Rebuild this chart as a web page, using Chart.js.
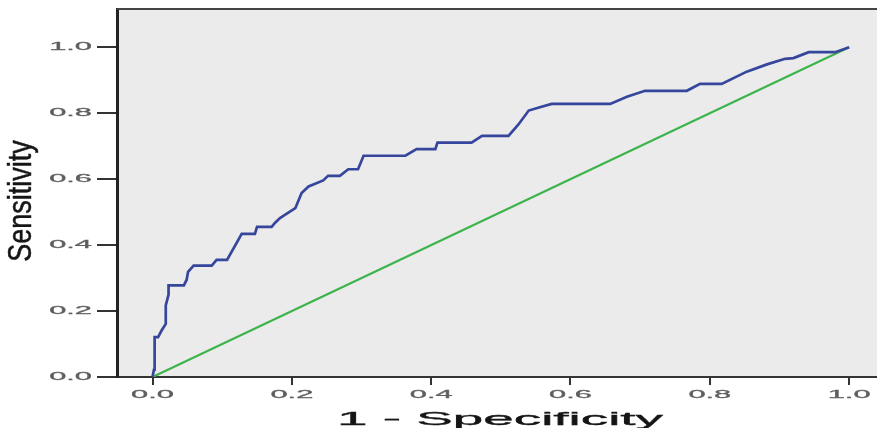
<!DOCTYPE html>
<html>
<head>
<meta charset="utf-8">
<script src="https://cdn.jsdelivr.net/npm/chart.js@4"></script>
<style>
html,body{margin:0;padding:0;background:#fff;}
#wrap{width:877px;height:428px;position:relative;}
</style>
</head>
<body>
<div id="wrap"><canvas id="c"></canvas></div>
<script>
// ROC curve values (1 - Specificity, Sensitivity)
const rocFpr = [0, 0.002, 0.003, 0.003, 0.008, 0.013, 0.019, 0.019, 0.023, 0.023, 0.045, 0.049, 0.051, 0.059, 0.085, 0.092, 0.107, 0.128, 0.147, 0.150, 0.171, 0.176, 0.183, 0.190, 0.205, 0.214, 0.224, 0.245, 0.252, 0.269, 0.281, 0.295, 0.303, 0.363, 0.379, 0.406, 0.409, 0.458, 0.473, 0.511, 0.525, 0.540, 0.556, 0.573, 0.657, 0.681, 0.707, 0.767, 0.786, 0.817, 0.853, 0.882, 0.908, 0.920, 0.942, 0.980, 1.0];
const rocTpr = [0, 0.022, 0.022, 0.121, 0.121, 0.141, 0.161, 0.217, 0.250, 0.278, 0.278, 0.295, 0.319, 0.338, 0.338, 0.355, 0.355, 0.434, 0.434, 0.455, 0.455, 0.468, 0.482, 0.492, 0.512, 0.558, 0.578, 0.596, 0.610, 0.610, 0.630, 0.630, 0.671, 0.671, 0.691, 0.691, 0.711, 0.711, 0.731, 0.731, 0.765, 0.808, 0.818, 0.828, 0.828, 0.850, 0.868, 0.868, 0.889, 0.889, 0.926, 0.948, 0.965, 0.967, 0.985, 0.985, 1.0];
// Reference line
const refX = [0, 1];
const refY = [0, 1];
// Tick labels
const xTickValues = [0, 0.2, 0.4, 0.6, 0.8, 1.0];
const yTickValues = [0, 0.2, 0.4, 0.6, 0.8, 1.0];
const xTitle = '1 - Specificity';
const yTitle = 'Sensitivity';

const rocPoints = rocFpr.map((x, i) => ({x: x, y: rocTpr[i]}));
const refPoints = refX.map((x, i) => ({x: x, y: refY[i]}));

const FONT = '"Liberation Sans", Arial, sans-serif';

function heavyText(ctx, s, x, y, lw) {
  ctx.lineWidth = lw;
  ctx.strokeText(s, x, y);
  ctx.fillText(s, x, y);
}

const decor = {
  id: 'decor',
  beforeDraw(chart) {
    const ctx = chart.ctx, a = chart.chartArea;
    ctx.save();
    ctx.fillStyle = '#ffffff';
    ctx.fillRect(0, 0, chart.width, chart.height);
    ctx.fillStyle = '#ebebeb';
    ctx.fillRect(a.left, a.top, a.right - a.left, a.bottom - a.top);
    ctx.restore();
  },
  afterDraw(chart) {
    const ctx = chart.ctx, a = chart.chartArea;
    const xs = chart.scales.x, ys = chart.scales.y;
    ctx.save();
    // top frame line
    ctx.strokeStyle = '#444';
    ctx.lineWidth = 2;
    ctx.beginPath();
    ctx.moveTo(a.left, a.top);
    ctx.lineTo(a.right, a.top);
    ctx.stroke();

    // tick labels (horizontally stretched like the reference)
    ctx.fillStyle = '#5e5e5e';
    ctx.strokeStyle = '#5e5e5e';
    ctx.font = '11px ' + FONT;
    ctx.textBaseline = 'middle';
    xs.ticks.forEach((t, i) => {
      const px = xs.getPixelForTick(i);
      ctx.save();
      ctx.translate(px, 394.5);
      ctx.scale(2.8, 1);
      ctx.textAlign = 'center';
      heavyText(ctx, t.label, 0, 0, 0.3);
      ctx.restore();
    });
    ys.ticks.forEach((t, i) => {
      const py = ys.getPixelForTick(i);
      ctx.save();
      ctx.translate(92, py);
      ctx.scale(2.8, 1);
      ctx.textAlign = 'right';
      heavyText(ctx, t.label, 0, 0, 0.3);
      ctx.restore();
    });

    // x title
    ctx.fillStyle = '#151515';
    ctx.strokeStyle = '#151515';
    ctx.font = '19px ' + FONT;
    const w = ctx.measureText(xTitle).width;
    const sx = 326 / w;
    ctx.save();
    ctx.translate(500, 425);
    ctx.scale(sx, 1);
    ctx.textAlign = 'center';
    ctx.textBaseline = 'alphabetic';
    heavyText(ctx, xTitle, 0, 0, 0.35);
    ctx.restore();

    // y title
    ctx.font = '27px ' + FONT;
    ctx.save();
    ctx.translate(31, 201);
    ctx.scale(1.2, 1);
    ctx.rotate(-Math.PI / 2);
    ctx.textAlign = 'center';
    ctx.textBaseline = 'alphabetic';
    heavyText(ctx, yTitle, 0, 0, 0.4);
    ctx.restore();
    ctx.restore();
  }
};

new Chart(document.getElementById('c'), {
  type: 'scatter',
  data: {
    datasets: [
      {
        label: 'Reference',
        data: refPoints,
        showLine: true,
        borderColor: '#3cb44b',
        borderWidth: 2.2,
        pointRadius: 0,
        fill: false,
        order: 2
      },
      {
        label: 'ROC',
        data: rocPoints,
        showLine: true,
        borderColor: '#36469c',
        borderWidth: 2.7,
        pointRadius: 0,
        fill: false,
        tension: 0,
        order: 1
      }
    ]
  },
  options: {
    responsive: true,
    maintainAspectRatio: false,
    animation: false,
    layout: { padding: { top: 9, left: 0, right: 0, bottom: 0 } },
    plugins: {
      legend: { display: false },
      tooltip: { enabled: false },
      title: { display: false }
    },
    scales: {
      x: {
        type: 'linear',
        min: -0.051,
        max: 1.04,
        afterBuildTicks(scale) { scale.ticks = xTickValues.map(v => ({value: v})); },
        afterFit(scale) { scale.height = 51; },
        ticks: {
          display: false,
          callback: v => v.toFixed(1)
        },
        grid: {
          display: true,
          drawOnChartArea: false,
          drawTicks: true,
          tickLength: 8,
          color: '#333',
          lineWidth: 2
        },
        border: { display: true, color: '#333', width: 2 }
      },
      y: {
        type: 'linear',
        min: 0,
        max: 1.116,
        afterBuildTicks(scale) { scale.ticks = yTickValues.map(v => ({value: v})); },
        afterFit(scale) { scale.width = 117; },
        ticks: {
          display: false,
          callback: v => v.toFixed(1)
        },
        grid: {
          display: true,
          drawOnChartArea: false,
          drawTicks: true,
          tickLength: 20,
          color: '#333',
          lineWidth: 2
        },
        border: { display: true, color: '#222', width: 3 }
      }
    }
  },
  plugins: [decor]
});
</script>
</body>
</html>
